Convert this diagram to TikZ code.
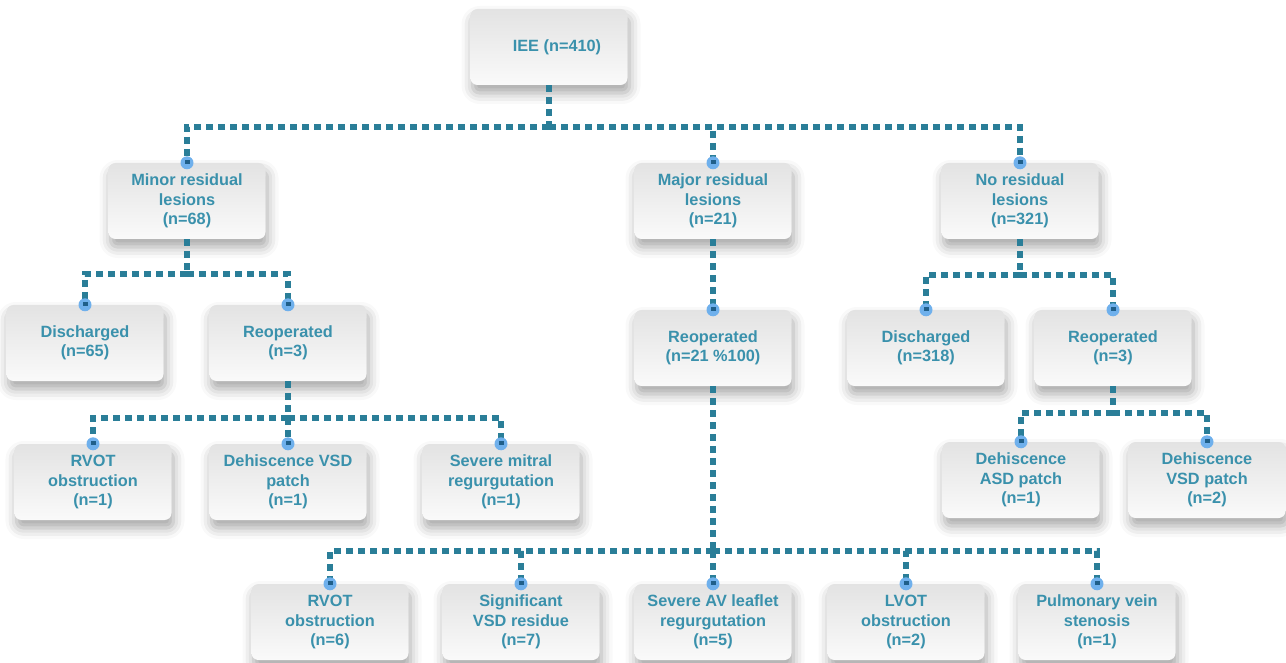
\documentclass[tikz,border=0pt]{standalone}
\usepackage{fontspec}
\setmainfont{Liberation Sans}
\usetikzlibrary{shadows.blur,calc}
\definecolor{txt}{HTML}{3A91AC}
\definecolor{lin}{HTML}{2A7E98}
\definecolor{dotc}{HTML}{6FB0EC}
\definecolor{dotd}{HTML}{1F5F8A}
\begin{document}
\begin{tikzpicture}[x=1pt,y=-1pt,
  box/.style={rounded corners=7pt, minimum width=157pt, minimum height=76pt, align=center,
    top color=black!11, bottom color=black!2, draw=none, text=txt,
    font=\fontsize{16.3pt}{19.5pt}\selectfont\bfseries,
    blur shadow={shadow xshift=2pt, shadow yshift=-8pt, shadow blur radius=11pt, shadow opacity=35}},
  conn/.style={draw=lin, line width=5.2pt, dash pattern=on 7pt off 5pt},
]
\useasboundingbox (0,0) rectangle (1286,663);
% nodes
\node[box] (iee) at (549,47) {\hspace*{16pt}IEE (n=410)};
\node[box] (minor) at (187,201) {Minor residual\\lesions\\(n=68)};
\node[box] (major) at (713,201) {Major residual\\lesions\\(n=21)};
\node[box] (nores) at (1020,201) {No residual\\lesions\\(n=321)};
\node[box] (dis1) at (85,343) {Discharged\\(n=65)};
\node[box] (reo1) at (288,343) {Reoperated\\(n=3)};
\node[box] (reo2) at (713,348) {Reoperated\\(n=21 \%100)};
\node[box] (dis3) at (926,348) {Discharged\\(n=318)};
\node[box] (reo3) at (1113,348) {Reoperated\\(n=3)};
\node[box] (rvot1) at (93,482) {RVOT\\obstruction\\(n=1)};
\node[box] (dvsd1) at (288,482) {Dehiscence VSD\\patch\\(n=1)};
\node[box] (smr) at (501,482) {Severe mitral\\regurgutation\\(n=1)};
\node[box] (dasd) at (1021,480) {Dehiscence\\ASD patch\\(n=1)};
\node[box] (dvsd3) at (1207,480) {Dehiscence\\VSD patch\\(n=2)};
\node[box] (rvot2) at (330,622) {RVOT\\obstruction\\(n=6)};
\node[box] (svsd) at (521,622) {Significant\\VSD residue\\(n=7)};
\node[box] (sav) at (713,622) {Severe AV leaflet\\regurgutation\\(n=5)};
\node[box] (lvot) at (906,622) {LVOT\\obstruction\\(n=2)};
\node[box] (pvs) at (1097,622) {Pulmonary vein\\stenosis\\(n=1)};
% junctions
\coordinate (j0) at (549,127);
\coordinate (j1) at (187,274);
\coordinate (j2) at (288,418);
\coordinate (j3) at (713,551);
\coordinate (j4) at (1020,275);
\coordinate (j5) at (1113,413);
% connectors
\draw[conn] (iee.south) -- (j0);
\foreach \n in {minor,major,nores} \draw[conn] (j0) -| (\n.north);
\draw[conn] (minor.south) -- (j1);
\foreach \n in {dis1,reo1} \draw[conn] (j1) -| (\n.north);
\draw[conn] (reo1.south) -- (j2);
\foreach \n in {rvot1,dvsd1,smr} \draw[conn] (j2) -| (\n.north);
\draw[conn] (major.south) -- (reo2.north);
\draw[conn] (reo2.south) -- (j3);
\foreach \n in {rvot2,svsd,sav,lvot,pvs} \draw[conn] (j3) -| (\n.north);
\draw[conn] (nores.south) -- (j4);
\foreach \n in {dis3,reo3} \draw[conn] (j4) -| (\n.north);
\draw[conn] (reo3.south) -- (j5);
\foreach \n in {dasd,dvsd3} \draw[conn] (j5) -| (\n.north);
% dots at box tops
\foreach \n in {minor,major,nores,dis1,reo1,reo2,dis3,reo3,rvot1,dvsd1,smr,dasd,dvsd3,rvot2,svsd,sav,lvot,pvs}{
  \fill[dotc] (\n.north) circle (6.5pt);
  \fill[dotd] ($(\n.north)+(-2.5,-2.5)$) rectangle ++(5,4);
}
\end{tikzpicture}
\end{document}
